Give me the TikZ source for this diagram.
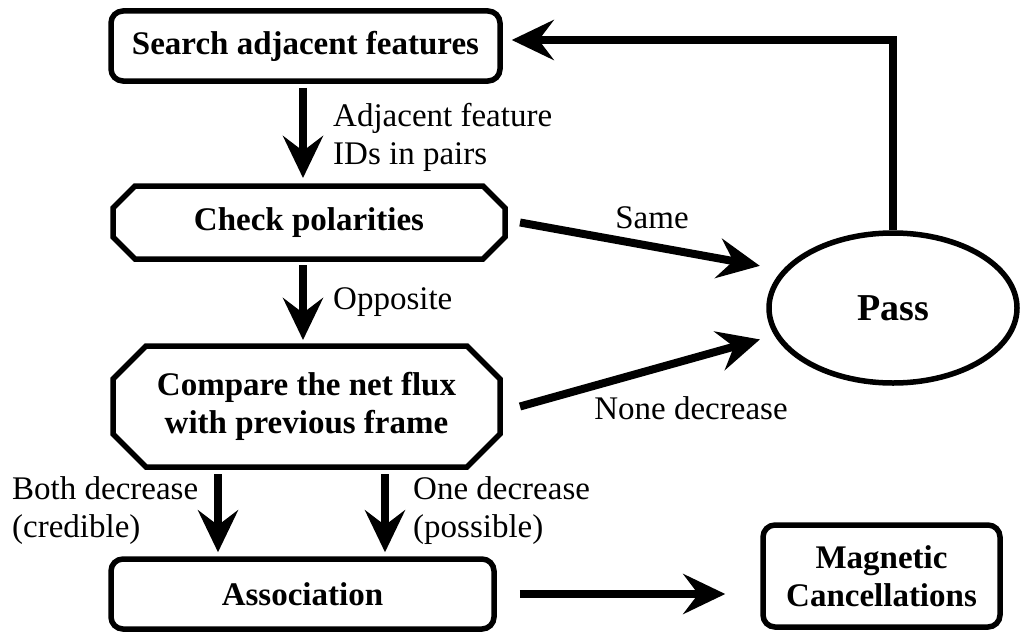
\documentclass[tikz,border=0pt]{standalone}
\usepackage{fontspec}
\setmainfont{Liberation Serif}
\usetikzlibrary{arrows.meta,shapes.geometric,calc}
\begin{document}
\begin{tikzpicture}[x=1pt,y=-1pt,
  boxtext/.style={font=\fontsize{33}{38}\selectfont\bfseries, align=center},
  rbox/.style={boxtext, draw, line width=5.5pt, rounded corners=12pt, inner sep=0pt},
  obox/.style={boxtext, inner sep=0pt, outer sep=0pt},
  border/.style={line width=5.5pt, line join=miter},
  lbl/.style={font=\fontsize{33}{38}\selectfont, align=left, inner sep=0pt},
  arr/.style={line width=8pt, -{Stealth[length=42pt,width=40pt,inset=15pt]}},
  ]
\useasboundingbox (0,0) rectangle (1024,634);

% nodes
\node[rbox, minimum width=389pt, minimum height=70pt] (search) at (305.5,46) {Search adjacent features};
\node[obox, minimum width=392pt, minimum height=73pt] (check) at (309,222.5) {Check polarities};
\draw[border] ([xshift=22pt]check.north west) -- ([xshift=-22pt]check.north east)
  -- ([yshift=-22pt]check.north east) -- ([yshift=22pt]check.south east)
  -- ([xshift=-22pt]check.south east) -- ([xshift=22pt]check.south west)
  -- ([yshift=22pt]check.south west) -- ([yshift=-22pt]check.north west) -- cycle;
\node[obox, minimum width=387pt, minimum height=121pt] (compare) at (306.5,406.5) {Compare the net flux\\with previous frame};
\draw[border] ([xshift=33pt]compare.north west) -- ([xshift=-33pt]compare.north east)
  -- ([yshift=-33pt]compare.north east) -- ([yshift=33pt]compare.south east)
  -- ([xshift=-33pt]compare.south east) -- ([xshift=33pt]compare.south west)
  -- ([yshift=33pt]compare.south west) -- ([yshift=-33pt]compare.north west) -- cycle;
\node[rbox, minimum width=383pt, minimum height=70pt] (assoc) at (302.5,594) {Association};
\node[rbox, minimum width=237pt, minimum height=102pt] (mag) at (881.5,576) {Magnetic\\Cancellations};
\node[draw, ellipse, line width=5.5pt, minimum width=248pt, minimum height=150pt, inner sep=0pt,
  font=\fontsize{38}{44}\selectfont\bfseries] (pass) at (893,308) {Pass};

% connectors
\draw[arr, shorten <=4pt, shorten >=8pt] ([xshift=-2.5pt]search.south) -- ([xshift=-2.5pt]search.south |- check.north);
\draw[arr, shorten <=6pt, shorten >=6pt] ([xshift=-6pt]check.south) -- ([xshift=-6pt]check.south |- compare.north);
\draw[arr, shorten <=7pt, shorten >=4pt] ([xshift=-88.5pt]compare.south) -- ([xshift=-88.5pt]compare.south |- assoc.north);
\draw[arr, shorten <=7pt, shorten >=4pt] ([xshift=78.5pt]compare.south) -- ([xshift=78.5pt]compare.south |- assoc.north);
\draw[arr, shorten >=23pt] ([xshift=15pt]check.east) -- (pass.161);
\draw[arr, shorten >=15pt] ([xshift=20pt]compare.east) -- (pass.193.5);
\draw[arr, shorten >=35pt] ([xshift=23pt]assoc.east) -- (assoc.east -| mag.west);
\draw[arr, line join=miter, shorten >=9pt] (pass.north) |- ([yshift=6pt]search.east);

% labels
\node[lbl, anchor=west] (l1) at (333,137.5) {Adjacent feature\\IDs in pairs};
\node[lbl, anchor=west] (l2) at (333,302) {Opposite};
\node[lbl, anchor=base] (l3) at (652,228) {Same};
\node[lbl, anchor=base] (l4) at (691,419) {None decrease};
\node[lbl, anchor=west] (l5) at (12,511) {Both decrease\\(credible)};
\node[lbl, anchor=west] (l6) at (413,511) {One decrease\\(possible)};
\end{tikzpicture}
\end{document}
